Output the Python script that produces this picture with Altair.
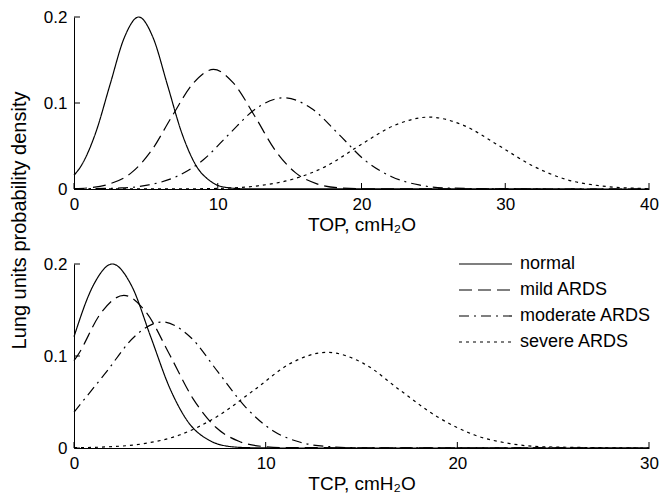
import altair as alt
import pandas as pd

FONT = "Liberation Sans"

series_names = ["normal", "mild ARDS", "moderate ARDS", "severe ARDS"]
dash_patterns = [[1, 0], [13, 6], [10, 5, 2, 5], [3, 4]]

# ---- upper panel: TOP (cmH2O) ----
top_normal_x = [0, 0.5, 1.5, 2.5, 3.5, 4.5, 5.5, 6.5, 7.5, 8.5, 9.5, 10.5, 12, 40]
top_normal_y = [0.016, 0.027, 0.065, 0.121, 0.176, 0.200, 0.176, 0.121, 0.065, 0.027, 0.009, 0.002, 0.0002, 0]
top_mild_x = [0, 1.1, 2.5, 4.0, 5.4, 6.8, 8.3, 9.7, 11.1, 12.6, 14.0, 15.4, 16.9, 18.3, 21, 40]
top_mild_y = [0.0005, 0.0015, 0.006, 0.019, 0.045, 0.084, 0.123, 0.139, 0.123, 0.084, 0.045, 0.019, 0.006, 0.0015, 0.0001, 0]
top_moderate_x = [0, 3.3, 5.2, 7.1, 9.0, 10.8, 12.7, 14.6, 16.5, 18.4, 20.2, 22.1, 24.0, 25.9, 30, 40]
top_moderate_y = [0.0001, 0.0012, 0.0047, 0.0143, 0.034, 0.064, 0.094, 0.106, 0.094, 0.064, 0.034, 0.0143, 0.0047, 0.0012, 0.0001, 0]
top_severe_x = [0, 8, 10.4, 12.8, 15.2, 17.6, 19.9, 22.3, 24.7, 27.1, 29.5, 31.9, 34.2, 36.6, 39.0, 40]
top_severe_y = [0, 0.0002, 0.0009, 0.0037, 0.0113, 0.027, 0.051, 0.074, 0.0836, 0.074, 0.051, 0.027, 0.0113, 0.0037, 0.0009, 0.0005]

# ---- lower panel: TCP (cmH2O) ----
bot_normal_x = [0, 1, 2, 3, 4, 5, 6, 7, 8, 9, 10.5, 30]
bot_normal_y = [0.121, 0.1765, 0.200, 0.1765, 0.121, 0.065, 0.027, 0.009, 0.002, 0.0004, 0, 0]
bot_mild_x = [0, 0.2, 1.4, 2.6, 3.8, 5.0, 6.2, 7.4, 8.6, 9.8, 11, 30]
bot_mild_y = [0.095, 0.101, 0.1465, 0.166, 0.1465, 0.101, 0.054, 0.0225, 0.0073, 0.0018, 0.0004, 0]
bot_moderate_x = [0, 1.7, 3.15, 4.6, 6.05, 7.5, 8.95, 10.4, 11.85, 13.3, 15, 30]
bot_moderate_y = [0.039, 0.083, 0.121, 0.137, 0.121, 0.083, 0.0445, 0.0185, 0.006, 0.0015, 0.0002, 0]
bot_severe_x = [0, 1.7, 3.6, 5.5, 7.45, 9.4, 11.3, 13.2, 15.1, 17.0, 18.95, 20.9, 22.8, 24.7, 30]
bot_severe_y = [0.0003, 0.0012, 0.0046, 0.0141, 0.034, 0.063, 0.092, 0.104, 0.092, 0.063, 0.034, 0.0141, 0.0046, 0.0012, 0]

top_xticks = [0, 10, 20, 30, 40]
bot_xticks = [0, 10, 20, 30]
yticks = [0, 0.1, 0.2]


def long_df(xs_list, ys_list):
    rows = []
    for name, xs, ys in zip(series_names, xs_list, ys_list):
        for x, y in zip(xs, ys):
            rows.append({"x": x, "y": y, "series": name})
    return pd.DataFrame(rows)


top_df = long_df([top_normal_x, top_mild_x, top_moderate_x, top_severe_x],
                 [top_normal_y, top_mild_y, top_moderate_y, top_severe_y])
bot_df = long_df([bot_normal_x, bot_mild_x, bot_moderate_x, bot_severe_x],
                 [bot_normal_y, bot_mild_y, bot_moderate_y, bot_severe_y])

dash_scale = alt.Scale(domain=series_names, range=dash_patterns)
PLOT_W = 575


def make_panel(df, xmax, xticks, xtitle, height, legend, ytitle_kw):
    xscale = alt.Scale(domain=[0, xmax], nice=False, zero=False)
    yscale = alt.Scale(domain=[0, 0.2], nice=False, zero=False)
    yaxis_kw = dict(values=yticks, format="~g", ticks=False, grid=False,
                    labelPadding=7, labelFontSize=17)
    yaxis_kw.update(ytitle_kw)
    xaxis = alt.Axis(values=xticks, format="d", title=xtitle, ticks=False, grid=False,
                     labelFlush=False, labelPadding=7, titlePadding=3,
                     labelFontSize=17, titleFontSize=19)
    yaxis = alt.Axis(**yaxis_kw)
    lines = alt.Chart(df).mark_line(color="black", strokeWidth=1.2, interpolate="monotone").encode(
        x=alt.X("x:Q", scale=xscale, axis=xaxis),
        y=alt.Y("y:Q", scale=yscale, axis=yaxis),
        strokeDash=alt.StrokeDash("series:N", scale=dash_scale, legend=legend),
        detail="series:N",
    )
    xt = alt.Chart(pd.DataFrame({"x": xticks})).mark_rule(color="black", strokeWidth=1).encode(
        x=alt.X("x:Q", scale=xscale, axis=xaxis),
        y=alt.value(height), y2=alt.value(height - 6),
    )
    yt = alt.Chart(pd.DataFrame({"y": yticks})).mark_rule(color="black", strokeWidth=1).encode(
        y=alt.Y("y:Q", scale=yscale, axis=yaxis),
        x=alt.value(0), x2=alt.value(6),
    )
    return alt.layer(lines, xt, yt).properties(width=PLOT_W, height=height)


legend = alt.Legend(orient="none", legendX=376, legendY=-9, title=None,
                    symbolType="M0,0H53", symbolSize=4, symbolStrokeWidth=1.2,
                    symbolStrokeColor="black", labelFontSize=18, labelFont=FONT,
                    labelColor="black", labelOffset=52, rowPadding=8)

top = make_panel(top_df, 40, top_xticks, "TOP, cmH\u2082O", 172, None, dict(title=None))
bottom = make_panel(bot_df, 30, bot_xticks, "TCP, cmH\u2082O", 184, legend,
                    dict(title="Lung units probability density", titleX=-55, titleY=-44,
                         titleAngle=270, titleAlign="center", titleBaseline="middle",
                         titleFontSize=20))

chart = alt.vconcat(top, bottom, spacing=75, bounds="flush").resolve_scale(
    strokeDash="independent"
).resolve_legend(
    strokeDash="independent"
).properties(
    padding={"left": 0, "top": 0, "right": 0, "bottom": 0}
).configure_view(stroke=None).configure_axis(
    domainColor="black", domainWidth=1, labelColor="black", titleColor="black",
    labelFont=FONT, titleFont=FONT, titleFontWeight="normal"
)

chart.save("out.html", embed_options={"renderer": "svg", "actions": False})
